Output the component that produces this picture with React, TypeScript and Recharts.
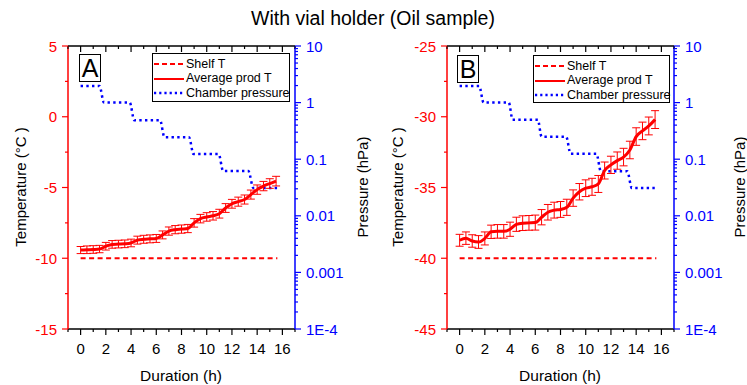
import React from 'react';
import { ComposedChart, Line, XAxis, YAxis, ErrorBar } from 'recharts';

const FONT = '"Liberation Sans", Arial, Helvetica, sans-serif';
const RED = '#ff0000';
const BLUE = '#0000ff';
const BLACK = '#000000';

// Sampling times of the averaged product temperature (h)
const sampleHours = [
  0, 0.5, 1, 1.5, 2, 2.5, 3, 3.5, 4, 4.5, 5, 5.5, 6, 6.5, 7, 7.5,
  8, 8.5, 9, 9.5, 10, 10.5, 11, 11.5, 12, 12.5, 13, 13.5, 14, 14.5, 15, 15.5,
];

// Panel A: shelf at -10 °C
const prodTempA = [
  -9.42, -9.4, -9.38, -9.35, -9.15, -9.02, -9.0, -8.98, -8.92, -8.72, -8.66, -8.63, -8.6, -8.35, -8.08, -7.98,
  -7.94, -7.9, -7.5, -7.2, -7.08, -7.0, -6.85, -6.45, -6.15, -6.0, -5.85, -5.5, -5.15, -4.9, -4.72, -4.55,
];
const prodErrA = [
  0.25, 0.27, 0.27, 0.26, 0.27, 0.27, 0.27, 0.27, 0.27, 0.28, 0.28, 0.28, 0.28, 0.28, 0.29, 0.29,
  0.29, 0.29, 0.3, 0.3, 0.3, 0.3, 0.31, 0.31, 0.31, 0.32, 0.32, 0.32, 0.33, 0.33, 0.34, 0.34,
];
const shelfHours = [0, 15.6];
const shelfTempA = [-10, -10];
const pressureHoursA = [0, 1.5, 1.85, 3.9, 4.25, 6.3, 6.65, 8.6, 8.95, 10.95, 11.3, 13.3, 13.7, 15.6];
const pressureA = [1.97, 1.97, 1.0, 1.0, 0.49, 0.49, 0.245, 0.245, 0.123, 0.123, 0.062, 0.062, 0.031, 0.031];

// Panel B: shelf at -40 °C
const prodTempB = [
  -38.73, -38.58, -38.78, -38.85, -38.6, -38.13, -38.1, -38.1, -37.95, -37.6, -37.52, -37.5, -37.48, -37.1, -36.75, -36.6,
  -36.55, -36.4, -35.75, -35.3, -35.05, -34.95, -34.75, -33.8, -33.4, -33.1, -32.85, -32.35, -31.4, -31.0, -30.65, -30.2,
];
const prodErrB = [
  0.42, 0.44, 0.44, 0.45, 0.46, 0.47, 0.48, 0.48, 0.5, 0.5, 0.52, 0.52, 0.53, 0.54, 0.55, 0.56,
  0.56, 0.57, 0.58, 0.58, 0.59, 0.6, 0.6, 0.6, 0.61, 0.61, 0.62, 0.62, 0.62, 0.62, 0.63, 0.63,
];
const shelfTempB = [-40, -40];
const pressureHoursB = [0, 1.55, 1.9, 3.9, 4.2, 6.2, 6.5, 8.45, 8.8, 10.85, 11.2, 13.3, 13.65, 15.6];
const pressureB = [1.97, 1.97, 1.0, 1.0, 0.5, 0.5, 0.25, 0.25, 0.125, 0.125, 0.061, 0.061, 0.031, 0.031];

// Axis ticks
const hourDomain: [number, number] = [-1, 17];
const hourLabels = [0, 2, 4, 6, 8, 10, 12, 14, 16];
const tempLabelsA = [5, 0, -5, -10, -15];
const tempLabelsB = [-25, -30, -35, -40, -45];
const pressureDecades = [10, 1, 0.1, 0.01, 0.001, 0.0001];

const legendLabels = ['Shelf T', 'Average prod T', 'Chamber pressure'];
const title = 'With vial holder (Oil sample)';

// minor ticks: every hour across the full axis
const hourTicks: number[] = [];
for (let h = hourDomain[0]; h <= hourDomain[1]; h += 1) hourTicks.push(h);

const withHalfSteps = (labels: number[]) => {
  const out: number[] = [];
  labels.forEach((v, i) => {
    out.push(v);
    if (i < labels.length - 1) out.push((v + labels[i + 1]) / 2);
  });
  return out;
};

const pressureTicks: number[] = (() => {
  const out: number[] = [pressureDecades[0]];
  for (let i = 1; i < pressureDecades.length; i++) {
    const d = pressureDecades[i];
    for (let k = 1; k <= 9; k++) out.push(+(k * d).toPrecision(6));
  }
  return out;
})();

const isDecade = (v: number) => Math.abs(Math.log10(v) - Math.round(Math.log10(v))) < 1e-6;
const fmtPressure = (v: number) => (v < 0.001 ? v.toExponential(0).toUpperCase().replace('+', '') : String(v));

const TICK_FONT = 15;

const BottomTick = (props: any) => {
  const { x, y, payload } = props;
  const major = hourLabels.includes(payload.value);
  return (
    <g>
      <line x1={x} x2={x} y1={y} y2={y + (major ? 6 : 3)} stroke={BLACK} strokeWidth={1.2} />
      {major && (
        <text x={x} y={y + 19} textAnchor="middle" dominantBaseline="central" fontSize={TICK_FONT} fontFamily={FONT} fill={BLACK}>
          {payload.value}
        </text>
      )}
    </g>
  );
};

const TopTick = (props: any) => {
  const { x, y, payload } = props;
  const major = hourLabels.includes(payload.value);
  return <line x1={x} x2={x} y1={y} y2={y + (major ? 6 : 3)} stroke={BLACK} strokeWidth={1.2} />;
};

const makeTempTick = (labels: number[]) => (props: any) => {
  const { x, y, payload } = props;
  const major = labels.includes(payload.value);
  return (
    <g>
      <line x1={x} x2={x - (major ? 6 : 3)} y1={y} y2={y} stroke={RED} strokeWidth={1.2} />
      {major && (
        <text x={x - 11} y={y} textAnchor="end" dominantBaseline="central" fontSize={TICK_FONT} fontFamily={FONT} fill={RED}>
          {payload.value}
        </text>
      )}
    </g>
  );
};

const PressureTick = (props: any) => {
  const { x, y, payload } = props;
  const major = isDecade(payload.value);
  return (
    <g>
      <line x1={x} x2={x + (major ? 6 : 3)} y1={y} y2={y} stroke={BLUE} strokeWidth={1.2} />
      {major && (
        <text x={x + 11} y={y} textAnchor="start" dominantBaseline="central" fontSize={TICK_FONT} fontFamily={FONT} fill={BLUE}>
          {fmtPressure(payload.value)}
        </text>
      )}
    </g>
  );
};

const Txt = ({ x, y, size, color = BLACK, rotate = 0, children }: any) => (
  <div
    style={{
      position: 'absolute',
      left: x,
      top: y,
      transform: `translate(-50%, -50%) rotate(${rotate}deg)`,
      fontSize: size,
      lineHeight: 1,
      color,
      whiteSpace: 'nowrap',
      fontFamily: FONT,
    }}
  >
    {children}
  </div>
);

const LegendBox = ({ left, top, width, height }: any) => {
  const samples = [
    { stroke: RED, dash: '5 3', w: 2 },
    { stroke: RED, dash: undefined, w: 2 },
    { stroke: BLUE, dash: '2.2 3', w: 2.4 },
  ];
  return (
    <div
      style={{
        position: 'absolute',
        left,
        top,
        width,
        height,
        border: '1px solid #000',
        boxSizing: 'border-box',
        background: '#fff',
        fontFamily: FONT,
        fontSize: 12.5,
      }}
    >
      {legendLabels.map((label, i) => (
        <div
          key={label}
          style={{ position: 'absolute', left: 0, top: 3 + i * 14.5, height: 14, display: 'flex', alignItems: 'center', whiteSpace: 'nowrap' }}
        >
          <svg width={32} height={14} style={{ display: 'block', flex: 'none' }}>
            <line x1={1} x2={31} y1={7} y2={7} stroke={samples[i].stroke} strokeWidth={samples[i].w} strokeDasharray={samples[i].dash} />
          </svg>
          <span style={{ marginLeft: 1, lineHeight: 1, whiteSpace: 'nowrap' }}>{label}</span>
        </div>
      ))}
    </div>
  );
};

const LetterBox = ({ left, top, letter }: any) => (
  <div
    style={{
      position: 'absolute',
      left,
      top,
      width: 22,
      height: 28,
      border: '1px solid #000',
      boxSizing: 'border-box',
      background: '#fff',
      fontFamily: FONT,
      fontSize: 25,
      lineHeight: '27px',
      textAlign: 'center',
    }}
  >
    {letter}
  </div>
);

type PanelProps = {
  left: number;
  plotLeft: number;
  plotRight: number;
  prodTemp: number[];
  prodErr: number[];
  shelfTemp: number[];
  pressureHours: number[];
  pressure: number[];
  tempLabels: number[];
};

const CHART_W = 374;
const CHART_H = 385;
const PLOT_TOP = 46;
const PLOT_BOTTOM = 329;

const Panel = ({ left, plotLeft, plotRight, prodTemp, prodErr, shelfTemp, pressureHours, pressure, tempLabels }: PanelProps) => {
  const prodData = sampleHours.map((t, i) => ({ t, v: prodTemp[i], e: prodErr[i] }));
  const shelfData = shelfHours.map((t, i) => ({ t, v: shelfTemp[i] }));
  const pressureData = pressureHours.map((t, i) => ({ t, p: pressure[i] }));
  const tempTicks = withHalfSteps(tempLabels);
  const TempTick = makeTempTick(tempLabels);
  return (
    <div style={{ position: 'absolute', left, top: 0, width: CHART_W, height: CHART_H }}>
      <ComposedChart width={CHART_W} height={CHART_H} margin={{ top: 0, right: 0, bottom: 0, left: 0 }}>
        <XAxis
          xAxisId="b"
          type="number"
          dataKey="t"
          orientation="bottom"
          domain={hourDomain}
          allowDataOverflow
          ticks={hourTicks}
          interval={0}
          height={CHART_H - PLOT_BOTTOM}
          tickSize={0}
          tickMargin={0}
          tickLine={false}
          axisLine={{ stroke: BLACK, strokeWidth: 1.5 }}
          tick={BottomTick}
        />
        <XAxis
          xAxisId="t"
          type="number"
          dataKey="t"
          orientation="top"
          domain={hourDomain}
          allowDataOverflow
          ticks={hourTicks}
          interval={0}
          height={PLOT_TOP}
          tickSize={0}
          tickMargin={0}
          tickLine={false}
          axisLine={{ stroke: BLACK, strokeWidth: 1.5 }}
          tick={TopTick}
        />
        <YAxis
          yAxisId="T"
          type="number"
          orientation="left"
          domain={[tempLabels[tempLabels.length - 1], tempLabels[0]]}
          allowDataOverflow
          ticks={tempTicks}
          interval={0}
          width={plotLeft}
          tickSize={0}
          tickMargin={0}
          tickLine={false}
          axisLine={{ stroke: RED, strokeWidth: 1.5 }}
          tick={TempTick}
        />
        <YAxis
          yAxisId="P"
          type="number"
          scale="log"
          orientation="right"
          domain={[0.0001, 10]}
          allowDataOverflow
          ticks={pressureTicks}
          interval={0}
          width={CHART_W - plotRight}
          tickSize={0}
          tickMargin={0}
          tickLine={false}
          axisLine={{ stroke: BLUE, strokeWidth: 1.5 }}
          tick={PressureTick}
        />
        <Line
          xAxisId="b"
          yAxisId="T"
          data={shelfData}
          dataKey="v"
          type="linear"
          stroke={RED}
          strokeWidth={2.2}
          strokeDasharray="5 3.5"
          dot={false}
          isAnimationActive={false}
        />
        <Line
          xAxisId="b"
          yAxisId="P"
          data={pressureData}
          dataKey="p"
          type="monotone"
          stroke={BLUE}
          strokeWidth={2.5}
          strokeDasharray="2.4 3.3"
          dot={false}
          isAnimationActive={false}
        />
        <Line
          xAxisId="b"
          yAxisId="T"
          data={prodData}
          dataKey="v"
          type="monotone"
          stroke={RED}
          strokeWidth={3}
          dot={false}
          isAnimationActive={false}
        >
          <ErrorBar dataKey="e" width={4} stroke={RED} strokeWidth={1} direction="y" />
        </Line>
      </ComposedChart>
    </div>
  );
};

export default function App() {
  return (
    <div style={{ position: 'absolute', left: 0, top: 0, width: 747, height: 385, background: '#fff', overflow: 'hidden' }}>
      <Panel
        left={0}
        plotLeft={68}
        plotRight={295}
        prodTemp={prodTempA}
        prodErr={prodErrA}
        shelfTemp={shelfTempA}
        pressureHours={pressureHoursA}
        pressure={pressureA}
        tempLabels={tempLabelsA}
      />
      <Panel
        left={373}
        plotLeft={74}
        plotRight={301}
        prodTemp={prodTempB}
        prodErr={prodErrB}
        shelfTemp={shelfTempB}
        pressureHours={pressureHoursB}
        pressure={pressureB}
        tempLabels={tempLabelsB}
      />

      <Txt x={373} y={19} size={19.5}>{title}</Txt>

      <Txt x={20} y={187} size={15} rotate={-90}>Temperature (°C )</Txt>
      <Txt x={362} y={187} size={15} rotate={-90}>Pressure (hPa)</Txt>
      <Txt x={181} y={376} size={15.5}>Duration (h)</Txt>

      <Txt x={397} y={187} size={15} rotate={-90}>Temperature (°C )</Txt>
      <Txt x={739} y={187} size={15} rotate={-90}>Pressure (hPa)</Txt>
      <Txt x={560} y={376} size={15.5}>Duration (h)</Txt>

      <LegendBox left={152} top={53} width={138} height={49} />
      <LegendBox left={533} top={55} width={137} height={48} />
      <LetterBox left={79} top={54} letter="A" />
      <LetterBox left={457} top={55} letter="B" />
    </div>
  );
}
